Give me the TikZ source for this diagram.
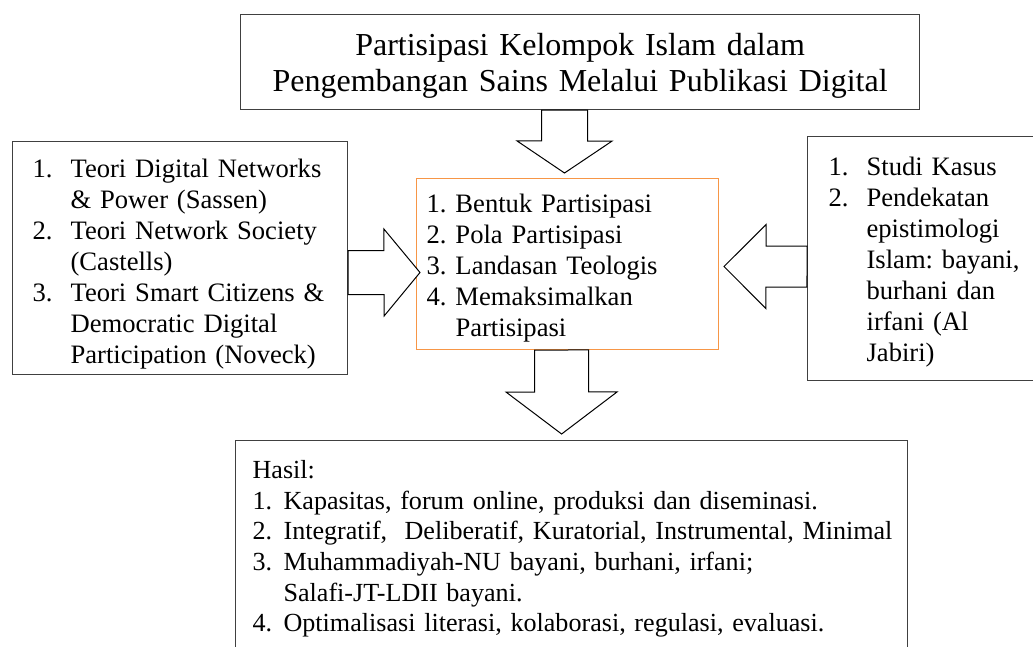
\documentclass[tikz,border=0pt]{standalone}
\usepackage{fontspec}
\setmainfont{Liberation Serif}
\usetikzlibrary{calc}
\frenchspacing
\definecolor{boxorange}{RGB}{247,150,70}
\newcommand{\itm}[2][38pt]{\makebox[#1][l]{#2}}
\newcommand{\blockarrow}[5]{%
    \path ($(#2)!#5!(#1)$) coordinate (h);
    \draw[fatarrow] ($(#1)!#3!90:(#2)$) -- ($(h)!#3!-90:(#1)$) -- ($(h)!#4!-90:(#1)$) -- (#2)
        -- ($(h)!#4!90:(#1)$) -- ($(h)!#3!90:(#1)$) -- ($(#1)!#3!-90:(#2)$) -- cycle;
}
\tikzset{
    box/.style={draw=black!75, line width=1.2pt, inner ysep=0pt, align=left, anchor=north west,
        font=\fontsize{26.6}{31}\selectfont},
    fatarrow/.style={draw=black, line width=1pt, fill=white, line join=miter},
}
\begin{document}
\begin{tikzpicture}[x=1pt, y=-1pt]
    \useasboundingbox (0,0) rectangle (1033,646);
    \clip (0,0) rectangle (1033,646);
    \node[box, align=center, font=\fontsize{32}{35.5}\selectfont, inner xsep=10pt, text width=659pt, text height=41pt, text depth=54pt] (title) at (240,14)
        {Partisipasi Kelompok Islam dalam\\Pengembangan Sains Melalui Publikasi Digital};
    \node[box, inner xsep=20pt, text width=295pt, text height=36pt, text depth=197pt] (theory) at (12,141)
        {\itm{1.}Teori Digital Networks\\ \itm{}\& Power (Sassen)\\ \itm{2.}Teori Network Society\\ \itm{}(Castells)\\
         \itm{3.}Teori Smart Citizens \&\\ \itm{}Democratic Digital\\ \itm{}Participation (Noveck)};
    \node[box, draw=boxorange, line width=1pt, inner xsep=10pt, text width=282pt, text height=34pt, text depth=137pt] (core) at (416,178)
        {\itm[29pt]{1.}Bentuk Partisipasi\\ \itm[29pt]{2.}Pola Partisipasi\\ \itm[29pt]{3.}Landasan Teologis\\
         \itm[29pt]{4.}Memaksimalkan\\ \itm[29pt]{}Partisipasi};
    \node[box, inner xsep=21pt, text width=196pt, text height=39pt, text depth=205pt] (method) at (807,136)
        {\itm{1.}Studi Kasus\\ \itm{2.}Pendekatan\\ \itm{}epistimologi\\ \itm{}Islam: bayani,\\ \itm{}burhani dan\\
         \itm{}irfani (Al\\ \itm{}Jabiri)};
    \node[box, font=\fontsize{26.1}{30.6}\selectfont, inner xsep=17pt, text width=638pt, text height=38pt, text depth=182pt] (result) at (235,440)
        {Hasil:\\ \itm[31pt]{1.}Kapasitas, forum online, produksi dan diseminasi.\\
         \itm[31pt]{2.}\mbox{Integratif,~ Deliberatif, Kuratorial, Instrumental, Minimal}\\
         \itm[31pt]{3.}Muhammadiyah-NU bayani, burhani, irfani;\\ \itm[31pt]{}Salafi-JT-LDII bayani.\\
         \itm[31pt]{4.}Optimalisasi literasi, kolaborasi, regulasi, evaluasi.};
    \coordinate (t1) at ($(title.south)+(-15.5,0)$);
    \coordinate (t2) at ($(core.north)+(-3,-5)$);
    \coordinate (l1) at ($(theory.east)+(0,14.5)$);
    \coordinate (l2) at ($(core.west)+(4,8.5)$);
    \coordinate (r1) at ($(method.west)+(0,8)$);
    \coordinate (r2) at ($(core.east)+(5,2.5)$);
    \coordinate (b1) at ($(core.south)+(-6,0)$);
    \coordinate (b2) at ($(result.north)+(-10,-6)$);
    \blockarrow{t1}{t2}{23pt}{47.5pt}{32pt}
    \blockarrow{l1}{l2}{22pt}{43.5pt}{36pt}
    \blockarrow{r1}{r2}{20.5pt}{42pt}{42pt}
    \blockarrow{b1}{b2}{27pt}{55.5pt}{42pt}
\end{tikzpicture}
\end{document}
